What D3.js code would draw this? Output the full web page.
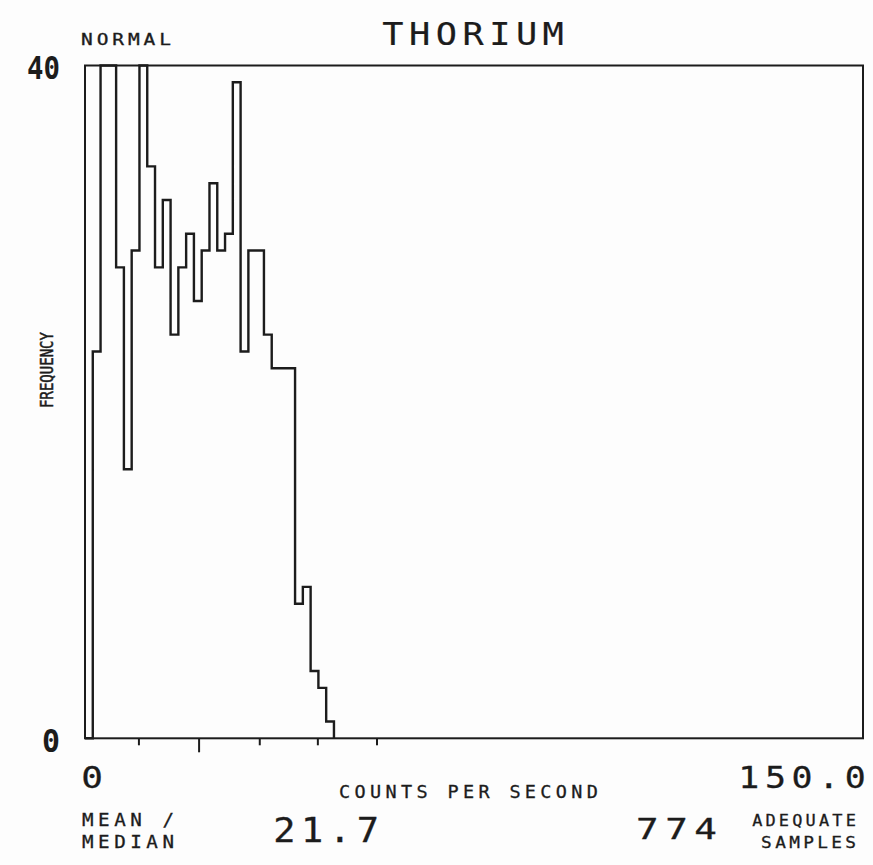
<!DOCTYPE html>
<html><head><meta charset="utf-8">
<script src="https://cdn.jsdelivr.net/npm/d3@7"></script>
<style>html,body{margin:0;padding:0;background:#fdfdfd;} svg{display:block}</style>
</head><body><svg id="c" width="873" height="865"></svg>
<script>
// ---- data ----
const counts = [0,23,40,40,28,16,29,40,34,28,32,24,28,30,26,29,33,29,30,39,23,29,29,24,22,22,22,8,9,4,3,1];
const binWidth = 1.5;
const xDomain = [0, 150];
const yDomain = [0, 40];
const xTickValues = [10.3, 21.9, 33.6, 44.8, 56.2];
const xLongTicks = [21.9];
const yTickValues = [0, 40];
const titleText = "THORIUM";
const distText = "NORMAL";
const yLabel = "FREQUENCY";
const xLabel = "COUNTS PER SECOND";
const xMinLabel = "0";
const xMaxLabel = "150.0";
const meanLabel = ["MEAN /", "MEDIAN"];
const meanValue = "21.7";
const sampleCount = "774";
const sampleLabel = ["ADEQUATE", "SAMPLES"];

// ---- layout ----
const ink = "#1c1c1c";
const font = "'DejaVu Sans Mono', 'Liberation Mono', monospace";
const svg = d3.select("#c");
svg.append("rect").attr("width", 873).attr("height", 865).attr("fill", "#fdfdfd");

const x = d3.scaleLinear().domain(xDomain).range([85, 863]);
const y = d3.scaleLinear().domain(yDomain).range([738.3, 65.5]);

// frame
svg.append("rect")
  .attr("x", x(xDomain[0])).attr("y", y(yDomain[1]))
  .attr("width", x(xDomain[1]) - x(xDomain[0]))
  .attr("height", y(yDomain[0]) - y(yDomain[1]))
  .attr("fill", "none").attr("stroke", ink).attr("stroke-width", 2);

// histogram outline
const pts = counts.map((c, i) => [i * binWidth, c]);
pts.push([counts.length * binWidth, 0]);
const line = d3.line().x(d => x(d[0])).y(d => y(d[1])).curve(d3.curveStepAfter);
svg.append("path").attr("d", line(pts))
  .attr("fill", "none").attr("stroke", ink).attr("stroke-width", 2.4)
  .attr("stroke-linejoin", "miter");

// x ticks
const gx = svg.append("g").attr("transform", `translate(0,${y(0)})`)
  .call(d3.axisBottom(x).tickValues(xTickValues).tickSize(7).tickFormat(""));
gx.select(".domain").remove();
gx.selectAll(".tick line").attr("stroke", ink).attr("stroke-width", 2)
  .attr("y2", d => xLongTicks.includes(d) ? 14 : 7);

// y tick labels
const gy = svg.append("g").attr("transform", `translate(${x(0)},0)`)
  .call(d3.axisLeft(y).tickValues(yTickValues).tickSize(0).tickPadding(25));
gy.select(".domain").remove();
gy.selectAll(".tick text")
  .attr("font-family", font).attr("font-size", 32).attr("font-weight", "bold")
  .attr("fill", ink).attr("dy", "0.4em")
  .attr("textLength", d => d === 40 ? 33 : 18)
  .attr("lengthAdjust", "spacingAndGlyphs");

// place monospaced text so its visible ink spans [left, right]
function place(s, left, right, base, size, ls, stroke) {
  const n = s.length;
  const a0 = 0.602 * size + ls;     // advance per char incl. spacing
  const w0 = 0.5 * size;            // visible glyph width
  const lb0 = 0.05 * size;          // left bearing
  const k = (right - left) / ((n - 1) * a0 + w0);
  const t = svg.append("text").text(s)
    .attr("x", left - lb0 * k).attr("y", base)
    .attr("font-family", font).attr("font-size", size)
    .attr("letter-spacing", ls)
    .attr("fill", ink)
    .attr("textLength", n * a0 * k).attr("lengthAdjust", "spacingAndGlyphs");
  if (stroke) t.attr("stroke", ink).attr("stroke-width", stroke);
  return t;
}

place(distText, 82, 170, 45, 15, 3, 0.3);
place(titleText, 384, 562, 45, 32, 5, 0.2);
place(xMinLabel, 83, 101, 788, 31, 0, 0.3);
place(xLabel, 340, 597, 798, 17, 4, 0.3);
place(xMaxLabel, 740, 864, 788, 31, 5, 0.3);
place(meanLabel[0], 83, 173, 826, 17, 4, 0.3);
place(meanLabel[1], 83, 173, 848, 17, 4, 0.3);
place(meanValue, 275, 377, 842, 33, 5, 0.3);
place(sampleCount, 638, 715, 839, 29, 5, 0.3);
place(sampleLabel[0], 753, 855, 826, 16, 3, 0.3);
place(sampleLabel[1], 762, 855, 848, 16, 3, 0.3);

// rotated y label
svg.append("text").text(yLabel)
  .attr("transform", "translate(53,370) rotate(-90)")
  .attr("text-anchor", "middle")
  .attr("font-family", font).attr("font-size", 18)
  .attr("fill", ink).attr("stroke", ink).attr("stroke-width", 0.5)
  .attr("textLength", 76).attr("lengthAdjust", "spacingAndGlyphs");
</script>
</body></html>
